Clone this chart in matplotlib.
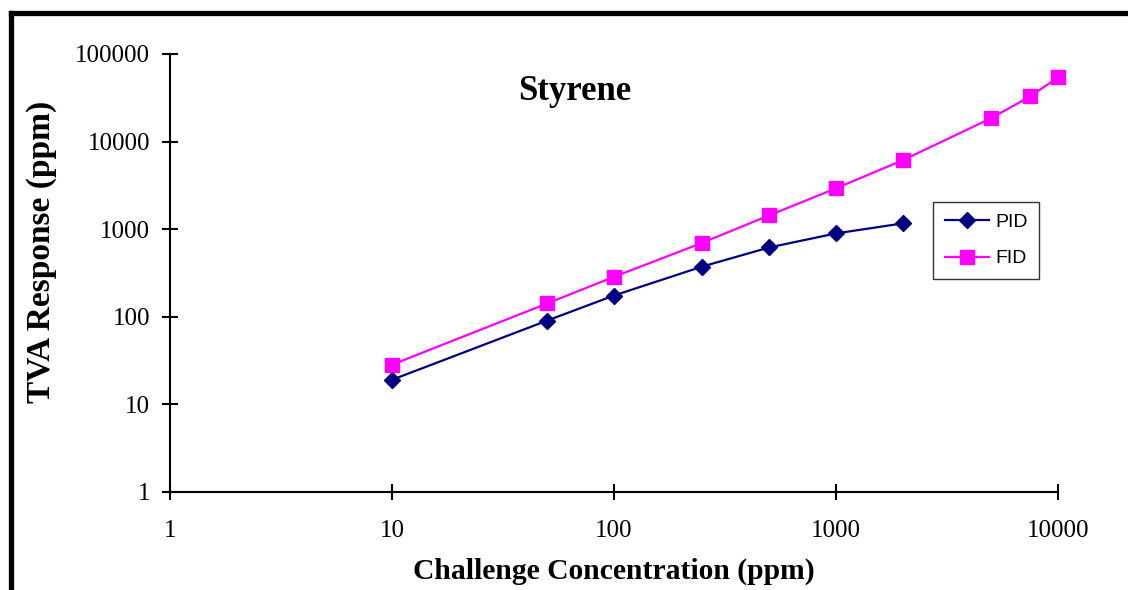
import matplotlib
matplotlib.use("Agg")
import matplotlib.pyplot as plt
from matplotlib.lines import Line2D

# Data
pid_x = [10, 50, 100, 250, 500, 1000, 2000]
pid_y = [19.1, 90.5, 175, 375, 619, 895, 1165]
fid_x = [10, 50, 100, 250, 500, 1000, 2000, 5000, 7500, 10000]
fid_y = [28.4, 142, 286, 700, 1438, 2930, 6130, 18500, 32800, 54100]
x_ticks = [1, 10, 100, 1000, 10000]
y_ticks = [1, 10, 100, 1000, 10000, 100000]
title = "Styrene"
xlabel = "Challenge Concentration (ppm)"
ylabel = "TVA Response (ppm)"

W, H = 1128, 590
fig = plt.figure(figsize=(W / 100, H / 100), dpi=100)
ax = fig.add_axes([170 / W, 1 - 492 / H, (1058 - 170) / W, (492 - 54) / H])

ax.plot(pid_x, pid_y, color="#000080", marker="D", markersize=8.5, lw=1.6, label="PID",
        clip_on=False)
ax.plot(fid_x, fid_y, color="#FF00FF", marker="s", markersize=10.5, lw=1.6, label="FID",
        clip_on=False)

ax.set_xscale("log")
ax.set_yscale("log")
ax.set_xlim(1, 10000)
ax.set_ylim(1, 100000)
ax.set_xticks(x_ticks)
ax.set_xticklabels([str(v) for v in x_ticks])
ax.set_yticks(y_ticks)
ax.set_yticklabels([str(v) for v in y_ticks])
ax.minorticks_off()
ax.spines["top"].set_visible(False)
ax.spines["right"].set_visible(False)
for s in ("left", "bottom"):
    ax.spines[s].set_linewidth(1.5)
serif = "Liberation Serif"
ax.tick_params(axis="both", which="major", direction="inout", length=11, width=1.5,
               labelsize=18, labelfontfamily=serif)
ax.tick_params(axis="x", pad=15)
ax.tick_params(axis="y", pad=9)

ax.set_xlabel(xlabel, fontfamily=serif, fontweight="bold", fontsize=21.3, labelpad=11)
fig.text(42 / W, 1 - 252 / H, ylabel, rotation=90, fontfamily=serif, fontweight="bold",
         fontsize=24, ha="center", va="center")
fig.text(575 / W, 1 - 92 / H, title, fontfamily=serif, fontweight="bold", fontsize=25,
         ha="center", va="center")

leg = ax.legend(loc="upper left", bbox_to_anchor=(933 / W, 1 - 202 / H),
                bbox_transform=fig.transFigure, frameon=True, fancybox=False,
                edgecolor="black", prop={"family": "Liberation Sans", "size": 14},
                handlelength=2.3, borderpad=0.6, labelspacing=0.95, handletextpad=0.3,
                borderaxespad=0)
leg.get_frame().set_linewidth(1.0)

# Outer frame
fig.add_artist(Line2D([10.5 / W, 10.5 / W], [0, 1 - 13 / H], color="black", lw=3.8,
                      transform=fig.transFigure, solid_capstyle="projecting"))
fig.add_artist(Line2D([10.5 / W, 1], [1 - 13 / H, 1 - 13 / H], color="black", lw=3.8,
                      transform=fig.transFigure, solid_capstyle="projecting"))

fig.savefig("out.png", dpi=100)
